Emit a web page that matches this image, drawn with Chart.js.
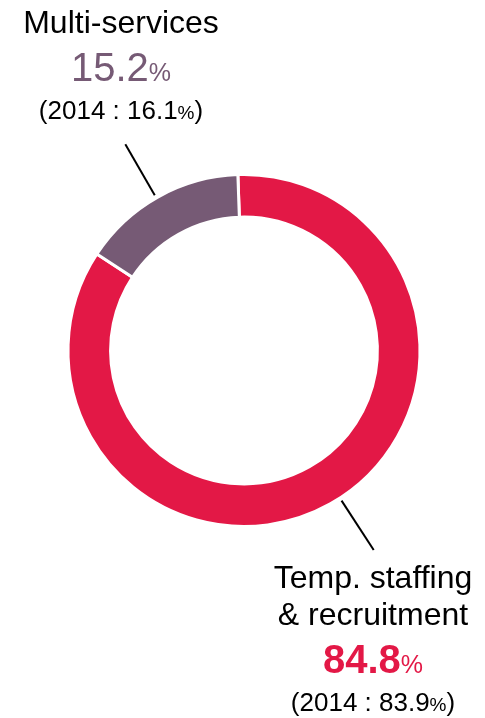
<!DOCTYPE html>
<html>
<head>
<meta charset="utf-8">
<script src="https://cdn.jsdelivr.net/npm/chart.js@4.4.0/dist/chart.umd.min.js"></script>
<style>
body{margin:0;background:#fff;}
#wrap{position:relative;width:485px;height:718px;}
</style>
</head>
<body>
<div id="wrap"><canvas id="donutChart"></canvas></div>
<script>
// revenue split by business line (%)
var segmentNames = [['Temp. staffing', '& recruitment'], ['Multi-services']];
var share2015 = [84.8, 15.2];
var share2014 = [83.9, 16.1];

var RED = '#e31846', PURPLE = '#765a75';
var FONT = 'Arial, "Liberation Sans", sans-serif';

// label block: centre x + first baseline, leader leaves the ring at "along" (fraction of the arc)
var blocks = [
    {x: 373, y: 588, color: RED, bold: true, along: 0.488},
    {x: 121, y: 33, color: PURPLE, bold: false, along: 0.49}
];

function drawRuns(ctx, runs, cx, y){
    var total = 0;
    runs.forEach(function(r){
        ctx.font = r.font;
        r.w = ctx.measureText(r.text).width;
        total += r.w;
    });
    var x = cx - total / 2;
    runs.forEach(function(r){
        ctx.font = r.font;
        ctx.fillStyle = r.color;
        ctx.fillText(r.text, x, y);
        x += r.w;
    });
}

var calloutPlugin = {
    id: 'callouts',
    afterDraw: function(chart){
        var ctx = chart.ctx;
        var arcs = chart.getDatasetMeta(0).data;
        ctx.save();
        ctx.textAlign = 'left';
        ctx.textBaseline = 'alphabetic';
        arcs.forEach(function(arc, i){
            var b = blocks[i];
            var a = arc.startAngle + (arc.endAngle - arc.startAngle) * b.along;
            // leader line
            ctx.strokeStyle = '#000';
            ctx.lineWidth = 2;
            ctx.beginPath();
            ctx.moveTo(arc.x + Math.cos(a) * (arc.outerRadius + 3), arc.y + Math.sin(a) * (arc.outerRadius + 3));
            ctx.lineTo(arc.x + Math.cos(a) * (arc.outerRadius + 62), arc.y + Math.sin(a) * (arc.outerRadius + 62));
            ctx.stroke();

            // name lines
            var y = b.y;
            segmentNames[i].forEach(function(line, k){
                if (k > 0) y += 37;
                drawRuns(ctx, [{text: line, font: '32px ' + FONT, color: '#000'}], b.x, y);
            });
            // this year
            y += 48;
            drawRuns(ctx, [
                {text: share2015[i].toFixed(1), font: (b.bold ? 'bold ' : '') + '40px ' + FONT, color: b.color},
                {text: '%', font: '25px ' + FONT, color: b.color}
            ], b.x, y);
            // last year
            y += 38;
            drawRuns(ctx, [
                {text: '(2014 : ' + share2014[i].toFixed(1), font: '26px ' + FONT, color: '#000'},
                {text: '%', font: '19px ' + FONT, color: '#000'},
                {text: ')', font: '26px ' + FONT, color: '#000'}
            ], b.x, y);
        });
        ctx.restore();
    }
};

new Chart(document.querySelector('#donutChart'), {
    type: 'doughnut',
    data: {
        labels: segmentNames.map(function(n){ return n.join(' '); }),
        datasets: [{
            data: share2015,
            backgroundColor: [RED, PURPLE],
            borderColor: '#fff',
            borderWidth: 3,
            hoverOffset: 0
        }]
    },
    options: {
        responsive: true,
        maintainAspectRatio: false,
        animation: false,
        rotation: -2,
        radius: 176,
        cutout: '75.8%',
        layout: {padding: {left: 60, right: 57, top: 160, bottom: 177}},
        plugins: {
            legend: {display: false},
            tooltip: {enabled: false}
        }
    },
    plugins: [calloutPlugin]
});
</script>
</body>
</html>
